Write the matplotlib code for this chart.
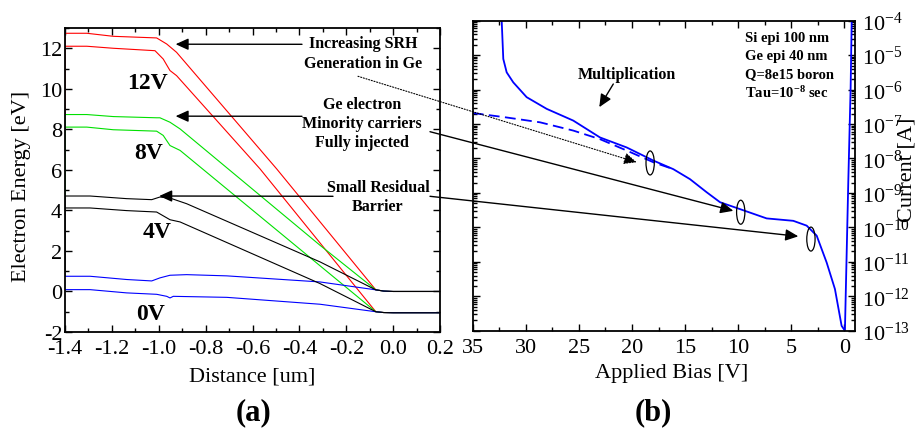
import numpy as np
import matplotlib
matplotlib.use("Agg")
import matplotlib.pyplot as plt
from matplotlib.patches import Ellipse
from matplotlib.ticker import MultipleLocator, LogLocator, NullFormatter, LogFormatterSciNotation

plt.rcParams['font.family'] = ['Liberation Serif', 'DejaVu Serif']
plt.rcParams['mathtext.fontset'] = 'custom'
plt.rcParams['mathtext.rm'] = 'Liberation Serif'
plt.rcParams['mathtext.it'] = 'Liberation Serif:italic'
plt.rcParams['mathtext.bf'] = 'Liberation Serif:bold'
plt.rcParams['axes.unicode_minus'] = False

# ---------------- data: panel (a) band diagrams ----------------
x_12_up = [-1.4, -1.4, -1.307, -1.194, -1.009, -0.966, -0.924, -0.497, -0.074, -0.04, 0.0, 0.2]
e_12_up = [8.73, 12.74, 12.74, 12.59, 12.51, 12.21, 11.80, 6.05, 0.08, 0.02, 0.0, 0.0]
x_12_lo = [-1.4, -1.307, -1.194, -1.016, -0.981, -0.952, -0.924, -0.568, -0.074, -0.04, 0.0, 0.2]
e_12_lo = [12.10, 12.10, 12.0, 11.88, 11.47, 10.90, 10.65, 6.05, -1.0, -1.04, -1.05, -1.05]

x_8_up = [-1.4, -1.4, -1.307, -1.194, -1.009, -0.995, -0.952, -0.909, -0.312, -0.074, -0.04, 0.0, 0.2]
e_8_up = [4.71, 8.73, 8.73, 8.63, 8.57, 8.57, 8.35, 8.02, 2.28, 0.08, 0.02, 0.0, 0.0]
x_8_lo = [-1.4, -1.307, -1.194, -1.009, -0.981, -0.952, -0.909, -0.074, -0.04, 0.0, 0.2]
e_8_lo = [8.11, 8.11, 7.98, 7.91, 7.70, 7.20, 6.96, -1.0, -1.04, -1.05, -1.05]

x_4_up = [-1.4, -1.4, -1.293, -1.137, -1.03, -0.995, -0.952, -0.881, -0.312, -0.074, -0.04, 0.0, 0.2]
e_4_up = [0.75, 4.71, 4.71, 4.58, 4.53, 4.66, 4.61, 4.33, 1.46, 0.08, 0.02, 0.0, 0.0]
x_4_lo = [-1.4, -1.293, -1.137, -1.009, -0.952, -0.909, -0.312, -0.074, -0.04, 0.0, 0.2]
e_4_lo = [4.12, 4.12, 3.99, 3.92, 3.54, 3.43, 0.39, -1.0, -1.04, -1.05, -1.05]

x_0_up = [-1.4, -1.293, -1.137, -1.03, -0.995, -0.952, -0.881, -0.71, -0.312, -0.074, -0.04, 0.0, 0.2]
e_0_up = [0.75, 0.75, 0.59, 0.52, 0.67, 0.80, 0.83, 0.77, 0.47, 0.08, 0.02, 0.0, 0.0]
x_0_lo = [-1.4, -1.293, -1.137, -1.009, -0.966, -0.952, -0.938, -0.71, -0.312, -0.074, -0.04, 0.0, 0.2]
e_0_lo = [0.09, 0.09, -0.07, -0.14, -0.24, -0.32, -0.24, -0.29, -0.63, -1.0, -1.04, -1.05, -1.05]

bias_labels = ["12V", "8V", "4V", "0V"]
bias_label_x = [-1.05, -1.045, -1.009, -1.037]
bias_label_y = [10.3, 6.88, 2.94, -1.09]

# ---------------- data: panel (b) I-V ----------------
bias_solid = [32.3, 32.27, 32.12, 31.8, 31.18, 29.92, 28.03, 25.53, 23.01, 20.5, 17.99, 16.11,
              14.54, 12.97, 11.71, 9.83, 7.32, 4.81, 3.55, 2.61, 1.67, 0.89, 0.26, -0.05,
              -0.37, -0.59, -0.69, -0.75]
logI_solid = [-3.5, -4.0, -5.11, -5.50, -5.79, -6.22, -6.56, -6.90, -7.39, -7.68, -8.06, -8.31,
              -8.60, -8.98, -9.27, -9.47, -9.74, -9.81, -9.95, -10.24, -11.02, -11.79, -12.86, -13.0,
              -8.65, -5.93, -4.0, -3.5]
bias_dash = [35.0, 31.8, 28.66, 25.53, 23.01, 20.5, 17.99, 16.11]
logI_dash = [-6.68, -6.81, -6.95, -7.19, -7.44, -7.77, -8.11, -8.31]

info_lines = ["Si epi 100 nm", "Ge epi 40 nm", "Q=8e15 boron", r"Tau=10$^{\mathbf{-8}}$ sec"]

# ---------------- figure ----------------
W, H = 919, 431
fig = plt.figure(figsize=(W / 100, H / 100), dpi=100)

ax1 = fig.add_axes([65 / W, 1 - 333 / H, 375 / W, 304 / H])
ax2 = fig.add_axes([472.7 / W, 1 - 331.7 / H, 382.3 / W, 310 / H])

lw = 0.8
RED, GREEN, BLUE = '#ff0000', '#00e000', '#0000ff'
for xs, es, c in [(x_12_up, e_12_up, RED), (x_12_lo, e_12_lo, RED),
                  (x_8_up, e_8_up, GREEN), (x_8_lo, e_8_lo, GREEN),
                  (x_0_up, e_0_up, BLUE), (x_0_lo, e_0_lo, BLUE),
                  (x_4_up, e_4_up, 'black'), (x_4_lo, e_4_lo, 'black')]:
    ax1.plot(xs, es, color=c, lw=lw)

for t, xx, yy in zip(bias_labels, bias_label_x, bias_label_y):
    ax1.text(xx, yy, t, fontsize=17, fontweight='bold', ha='center', va='center')

ax1.set_xlim(-1.4, 0.2)
ax1.set_ylim(-2, 13)
ax1.xaxis.set_major_locator(MultipleLocator(0.2))
ax1.xaxis.set_minor_locator(MultipleLocator(0.1))
ax1.yaxis.set_major_locator(MultipleLocator(2))
ax1.yaxis.set_minor_locator(MultipleLocator(1))
ax1.xaxis.set_major_formatter(matplotlib.ticker.FormatStrFormatter('%.1f'))
ax1.tick_params(which='both', direction='in', top=True, right=True, labelsize=16, width=1.0)
ax1.tick_params(which='major', length=5)
ax1.tick_params(which='minor', length=3)
ax1.tick_params(axis='x', pad=5)
ax1.tick_params(axis='y', pad=2)
ax1.set_xlabel("Distance [um]", fontsize=16, va='center')
ax1.xaxis.set_label_coords(0.5, (333 - 376.7) / 304)
ax1.set_ylabel("Electron Energy [eV]", fontsize=16, va='center')
ax1.yaxis.set_label_coords((21.7 - 65) / 375, (333 - 186.7) / 304)

ax2.set_yscale('log')
ax2.plot(bias_solid, 10.0 ** np.array(logI_solid), color=BLUE, lw=1.3)
ax2.plot(bias_dash, 10.0 ** np.array(logI_dash), color=BLUE, lw=1.3, dashes=(6, 3))
ax2.set_xlim(35, -1)
ax2.set_ylim(1e-13, 1e-4)
ax2.xaxis.set_major_locator(MultipleLocator(5))
ax2.xaxis.set_minor_locator(MultipleLocator(2.5))
ax2.yaxis.set_major_locator(LogLocator(base=10, numticks=20))
ax2.yaxis.set_minor_locator(LogLocator(base=10, subs=np.arange(2, 10), numticks=20))
ax2.yaxis.set_minor_formatter(NullFormatter())
ax2.yaxis.tick_right()
ax2.tick_params(which='both', direction='in', top=True, left=True, right=True, labelsize=16, width=1.0)
ax2.tick_params(which='major', length=5)
ax2.tick_params(which='minor', length=3)
ax2.tick_params(axis='x', pad=5)
ax2.tick_params(axis='y', pad=5)
ax2.set_xlabel("Applied Bias [V]", fontsize=16, va='center')
ax2.xaxis.set_label_coords((671.7 - 472.7) / 382.3, (331.7 - 373.3) / 310)
ax2.yaxis.set_label_position('right')
ax2.set_ylabel("Current [A]", fontsize=16)
ax2.yaxis.label.set_verticalalignment('center')
ax2.yaxis.label.set_horizontalalignment('center')
ax2.yaxis.set_label_coords((906.7 - 472.7) / 382.3, (331.7 - 170) / 310)

for a in (ax1, ax2):
    for s in a.spines.values():
        s.set_linewidth(1.3)

for i, t in enumerate(info_lines):
    fig.text(745 / W, 1 - (38.3 + i * 18.1) / H, t, fontsize=10.5, fontweight='bold', ha='left', va='center')

fig.text(253 / W, 1 - 413 / H, "(a)", fontsize=22, fontweight='bold', ha='center', va='center')
fig.text(653 / W, 1 - 413 / H, "(b)", fontsize=22, fontweight='bold', ha='center', va='center')

# ---------------- overlay for annotations (pixel coords) ----------------
ov = fig.add_axes([0, 0, 1, 1], zorder=10)
ov.set_xlim(0, W)
ov.set_ylim(H, 0)
ov.axis('off')
ov.patch.set_alpha(0)

ann_kw = dict(fontsize=11.5, fontweight='bold', ha='center', va='center', linespacing=1.25)
ov.text(363, 54, "Increasing SRH\nGeneration in Ge", **ann_kw)
ov.text(362, 124.5, "Ge electron\nMinority carriers\nFully injected", **ann_kw)
ov.text(378, 198, "Small Residual\nBarrier", **ann_kw)
ov.text(627.3, 75, "Multiplication", **ann_kw)

head = dict(arrowstyle='-|>,head_length=0.55,head_width=0.25', color='black', lw=1.0,
            mutation_scale=14, shrinkA=0, shrinkB=0)

def to_ov(ax, x, y):
    d = ax.transData.transform((x, y))
    return d[0], H - d[1]

# left-panel horizontal arrows (tips in data coords)
ov.annotate("", xy=to_ov(ax1, -0.928, 12.2), xytext=(302, 45.3), arrowprops=head)
ov.annotate("", xy=to_ov(ax1, -0.928, 8.65), xytext=(302, 117.3), arrowprops=head)
ov.annotate("", xy=to_ov(ax1, -0.998, 4.71), xytext=(333, 197.3), arrowprops=head)

# long arrows into right panel
dot = dict(head)
dot['linestyle'] = (0, (1, 1.5))
dot['lw'] = 0.8
ov.annotate("", xy=to_ov(ax2, 19.56, 10 ** -8.11), xytext=(358, 77.3), arrowprops=dot)
ov.annotate("", xy=to_ov(ax2, 10.46, 10 ** -9.52), xytext=(430, 132.7), arrowprops=head)
ov.annotate("", xy=to_ov(ax2, 4.34, 10 ** -10.26), xytext=(430, 197.3), arrowprops=head)
ov.annotate("", xy=to_ov(ax2, 23.08, 10 ** -6.51), xytext=(613.3, 85), arrowprops=head)

# ellipses
for bx, ly in [(18.29, -8.13), (9.76, -9.56), (3.15, -10.34)]:
    cx, cy = to_ov(ax2, bx, 10 ** ly)
    ov.add_patch(Ellipse((cx, cy), 8.3, 24, fill=False, ec='black', lw=0.9))

fig.savefig("out.png", dpi=100)
